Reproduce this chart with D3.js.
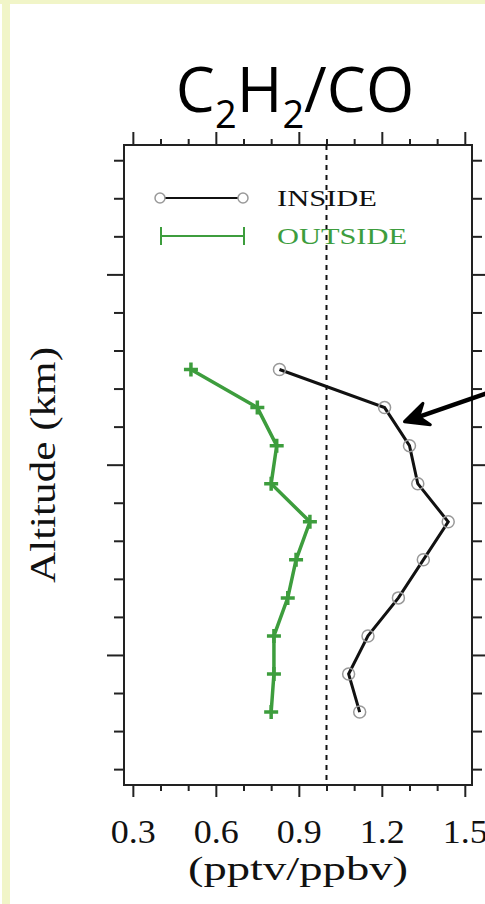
<!DOCTYPE html>
<html>
<head>
<meta charset="utf-8">
<script src="https://cdn.jsdelivr.net/npm/d3@7"></script>
<style>
  body { margin: 0; background: #fff; }
  svg { display: block; }
</style>
</head>
<body>
<div id="chart"></div>
<script>
// altitude bins (km) and ratio values
const altitude = [3.5, 4.5, 5.5, 6.5, 7.5, 8.5, 9.5, 10.5, 11.5, 12.5];
const inside  = [1.12, 1.08, 1.15, 1.26, 1.35, 1.44, 1.33, 1.30, 1.21, 0.83];
const outside = [0.80, 0.81, 0.81, 0.86, 0.89, 0.94, 0.80, 0.82, 0.75, 0.51];
const xMajor = [0.3, 0.6, 0.9, 1.2, 1.5];
const xMinor = [0.4, 0.5, 0.7, 0.8, 1.0, 1.1, 1.3, 1.4];
const yMajor = [5, 10, 15];
const yMinor = [2, 3, 4, 6, 7, 8, 9, 11, 12, 13, 14, 16, 17, 18];
const refLine = 1.0;
const arrowTip = [1.282, 11.13];
const arrowTail = [1.60, 11.93];

const W = 485, H = 904;
const margin = { top: 145, right: 13, bottom: 119, left: 124 };
const width = W - margin.left - margin.right,
      height = H - margin.top - margin.bottom;
const green = "#3d9d3d";
const serif = "Liberation Serif, serif";

const svg = d3.select("#chart").append("svg")
    .attr("width", W)
    .attr("height", H);

// pale page border
svg.append("rect").attr("x", 2).attr("y", 0).attr("width", 8).attr("height", H).attr("fill", "#f1f5c8");
svg.append("rect").attr("x", 0).attr("y", 0).attr("width", W).attr("height", 4).attr("fill", "#f1f5c8");

const g = svg.append("g")
    .attr("transform", `translate(${margin.left},${margin.top})`);

const x = d3.scaleLinear().domain([0.268, 1.526]).range([0, width]);
const y = d3.scaleLinear().domain([1.583, 18.4]).range([height, 0]);

// axes: minor then major ticks on all four sides
function styleAxis(sel) {
  sel.select(".domain").remove();
  sel.selectAll(".tick line").attr("stroke", "#222").attr("stroke-width", 2);
}
g.append("g").attr("transform", `translate(0,${height})`)
  .call(d3.axisBottom(x).tickValues(xMinor).tickSize(6).tickFormat(""))
  .call(styleAxis);
const xLab = g.append("g").attr("transform", `translate(0,${height})`)
  .call(d3.axisBottom(x).tickValues(xMajor).tickSize(12).tickFormat(d3.format(".1f")))
  .call(styleAxis)
  .attr("font-family", serif).attr("font-size", 33);
xLab.selectAll(".tick text")
  .attr("fill", "#111")
  .attr("dy", null).attr("y", 58)
  .attr("textLength", 45).attr("lengthAdjust", "spacingAndGlyphs");
g.append("g")
  .call(d3.axisTop(x).tickValues(xMinor).tickSize(6).tickFormat(""))
  .call(styleAxis);
g.append("g")
  .call(d3.axisTop(x).tickValues(xMajor).tickSize(13).tickFormat(""))
  .call(styleAxis);
g.append("g")
  .call(d3.axisLeft(y).tickValues(yMinor).tickSize(10).tickFormat(""))
  .call(styleAxis);
g.append("g")
  .call(d3.axisLeft(y).tickValues(yMajor).tickSize(17).tickFormat(""))
  .call(styleAxis);
g.append("g").attr("transform", `translate(${width},0)`)
  .call(d3.axisRight(y).tickValues(yMinor).tickSize(10).tickFormat(""))
  .call(styleAxis);
g.append("g").attr("transform", `translate(${width},0)`)
  .call(d3.axisRight(y).tickValues(yMajor).tickSize(17).tickFormat(""))
  .call(styleAxis);

// frame
g.append("rect")
  .attr("width", width).attr("height", height)
  .attr("fill", "none").attr("stroke", "#222").attr("stroke-width", 2);

// reference line
g.append("line")
  .attr("x1", x(refLine)).attr("x2", x(refLine))
  .attr("y1", 0).attr("y2", height)
  .attr("stroke", "#111").attr("stroke-width", 2)
  .attr("stroke-dasharray", "5,5");

const line = d3.line();

// OUTSIDE series
const outPts = altitude.map((a, i) => [x(outside[i]), y(a)]);
g.append("path")
  .attr("d", line(outPts))
  .attr("fill", "none").attr("stroke", green).attr("stroke-width", 3.5);
g.selectAll(".plus")
  .data(outPts)
  .enter().append("path")
    .attr("class", "plus")
    .attr("d", d => `M${d[0]-7},${d[1]}H${d[0]+7}M${d[0]},${d[1]-7}V${d[1]+7}`)
    .attr("stroke", green).attr("stroke-width", 3.5);

// INSIDE series
const inPts = altitude.map((a, i) => [x(inside[i]), y(a)]);
g.append("path")
  .attr("d", line(inPts))
  .attr("fill", "none").attr("stroke", "#111").attr("stroke-width", 3);
g.selectAll(".ring")
  .data(inPts)
  .enter().append("circle")
    .attr("class", "ring")
    .attr("cx", d => d[0]).attr("cy", d => d[1]).attr("r", 6)
    .attr("fill", "none").attr("stroke", "#999").attr("stroke-width", 1.5);

// arrow annotation
const tip = [x(arrowTip[0]), y(arrowTip[1])],
      tail = [x(arrowTail[0]), y(arrowTail[1])];
const ang = Math.atan2(tail[1] - tip[1], tail[0] - tip[0]);
const head = 26, spread = 0.45, notch = 15;
const pt = (r, a) => [tip[0] + r * Math.cos(a), tip[1] + r * Math.sin(a)];
g.append("line")
  .attr("x1", tail[0]).attr("y1", tail[1])
  .attr("x2", pt(notch, ang)[0]).attr("y2", pt(notch, ang)[1])
  .attr("stroke", "#000").attr("stroke-width", 4.5);
g.append("path")
  .attr("d", "M" + [tip, pt(head, ang - spread), pt(notch, ang), pt(head, ang + spread)].join("L") + "Z")
  .attr("fill", "#000").attr("stroke", "#000").attr("stroke-width", 3)
  .attr("stroke-linejoin", "round");

// legend
const lg = g.append("g").attr("transform", "translate(36,53)");
lg.append("line").attr("x1", 0).attr("x2", 83).attr("y1", 0).attr("y2", 0)
  .attr("stroke", "#111").attr("stroke-width", 2);
lg.selectAll(".lc").data([0, 83]).enter().append("circle")
  .attr("cx", d => d).attr("cy", 0).attr("r", 5)
  .attr("fill", "#fff").attr("stroke", "#999").attr("stroke-width", 1.5);
lg.append("text").attr("x", 117).attr("y", 8)
  .attr("font-family", serif).attr("font-size", 24)
  .attr("textLength", 100).attr("lengthAdjust", "spacingAndGlyphs")
  .attr("fill", "#111").text("INSIDE");
lg.append("line").attr("x1", 1).attr("x2", 84).attr("y1", 38).attr("y2", 38)
  .attr("stroke", green).attr("stroke-width", 2);
lg.selectAll(".lp").data([1, 84]).enter().append("path")
  .attr("d", d => `M${d},${29}V${47}`)
  .attr("stroke", green).attr("stroke-width", 2);
lg.append("text").attr("x", 117).attr("y", 46)
  .attr("font-family", serif).attr("font-size", 24)
  .attr("textLength", 130).attr("lengthAdjust", "spacingAndGlyphs")
  .attr("fill", green).text("OUTSIDE");

// axis titles
svg.append("text")
  .attr("x", margin.left + width / 2).attr("y", 880)
  .attr("text-anchor", "middle")
  .attr("font-family", serif).attr("font-size", 34)
  .attr("textLength", 220).attr("lengthAdjust", "spacingAndGlyphs")
  .attr("fill", "#111").text("(pptv/ppbv)");
svg.append("text")
  .attr("transform", `translate(55,${margin.top + height / 2}) rotate(-90)`)
  .attr("text-anchor", "middle")
  .attr("font-family", serif).attr("font-size", 35)
  .attr("textLength", 236).attr("lengthAdjust", "spacingAndGlyphs")
  .attr("fill", "#111").text("Altitude (km)");

// title with subscripts
const title = svg.append("text")
  .attr("x", 295).attr("y", 112)
  .attr("text-anchor", "middle")
  .attr("font-family", "Open Sans, sans-serif").attr("font-size", 62)
  .attr("fill", "#000");
title.append("tspan").text("C");
title.append("tspan").attr("dy", 16).attr("font-size", 38).text("2");
title.append("tspan").attr("dy", -16).text("H");
title.append("tspan").attr("dy", 16).attr("font-size", 38).text("2");
title.append("tspan").attr("dy", -16).text("/CO");
</script>
</body>
</html>
